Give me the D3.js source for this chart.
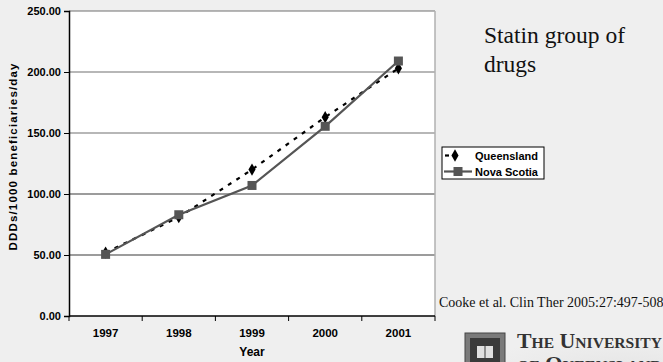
<!DOCTYPE html>
<html>
<head>
<meta charset="utf-8">
<script src="https://cdn.jsdelivr.net/npm/d3@7"></script>
<style>
  html, body { margin: 0; padding: 0; background: #efefef; }
  svg { display: block; }
</style>
</head>
<body>
<svg id="chart" width="663" height="362"></svg>
<script>
// Statin utilisation, DDDs per 1000 beneficiaries per day
const years = ["1997", "1998", "1999", "2000", "2001"];
const queensland = [52, 81, 120, 163, 203];
const novaScotia = [50.5, 83, 107, 155.5, 209];
const yTicks = [0, 50, 100, 150, 200, 250];
const seriesNames = ["Queensland", "Nova Scotia"];

const svg = d3.select("#chart");
const W = 663, H = 362;
const sans = "Liberation Sans, Arial, sans-serif";
const serif = "Liberation Serif, Times New Roman, serif";

// soft background wash at bottom right
const defs = svg.append("defs");
const grad = defs.append("radialGradient").attr("id", "wash")
  .attr("cx", "0.85").attr("cy", "1.1").attr("r", "0.5");
grad.append("stop").attr("offset", "0").attr("stop-color", "#e6e6e6");
grad.append("stop").attr("offset", "1").attr("stop-color", "#efefef");
svg.append("rect").attr("width", W).attr("height", H).attr("fill", "#efefef");
svg.append("rect").attr("x", 380).attr("y", 300).attr("width", 283).attr("height", 62).attr("fill", "url(#wash)");

const plot = { left: 69, right: 435, top: 11, bottom: 316 };

const x = d3.scaleBand().domain(years).range([plot.left, plot.right]);
const y = d3.scaleLinear().domain([0, 250]).range([plot.bottom, plot.top]);

// plot area
svg.append("rect")
  .attr("x", plot.left).attr("y", plot.top)
  .attr("width", plot.right - plot.left).attr("height", plot.bottom - plot.top)
  .attr("fill", "#ffffff");

// gridlines
svg.append("g").selectAll("line").data(yTicks.filter(d => d > 0)).join("line")
  .attr("x1", plot.left).attr("x2", plot.right)
  .attr("y1", d => y(d)).attr("y2", d => y(d))
  .attr("stroke", d => d >= 150 ? "#707070" : "#3a3a3a").attr("stroke-width", 1.2);

// right border
svg.append("line")
  .attr("x1", plot.right).attr("x2", plot.right)
  .attr("y1", plot.top).attr("y2", plot.bottom)
  .attr("stroke", "#b0b0b0").attr("stroke-width", 1.5);

// y axis
const yAxis = svg.append("g")
  .attr("transform", `translate(${plot.left},0)`)
  .call(d3.axisLeft(y).tickValues(yTicks).tickFormat(d3.format(".2f")).tickSize(5).tickPadding(3));
yAxis.select(".domain").attr("stroke", "#000").attr("stroke-width", 1.5);
yAxis.selectAll(".tick line").attr("stroke", "#000");
yAxis.selectAll("text")
  .attr("font-family", sans)
  .attr("font-size", 11).attr("font-weight", "bold").attr("fill", "#000");

// x axis with ticks on band boundaries
const xAxisG = svg.append("g").attr("transform", `translate(0,${plot.bottom})`);
xAxisG.append("line")
  .attr("x1", plot.left).attr("x2", plot.right)
  .attr("stroke", "#000").attr("stroke-width", 1.5);
const bounds = years.map(d => x(d)).concat([x(years[years.length - 1]) + x.bandwidth()]);
xAxisG.selectAll("line.tk").data(bounds).join("line").attr("class", "tk")
  .attr("x1", d => d).attr("x2", d => d).attr("y1", 0).attr("y2", 5)
  .attr("stroke", "#000");
xAxisG.selectAll("text").data(years).join("text")
  .attr("x", d => x(d) + x.bandwidth() / 2).attr("y", 21)
  .attr("text-anchor", "middle")
  .attr("font-family", sans)
  .attr("font-size", 11.5).attr("font-weight", "bold").attr("fill", "#000")
  .text(d => d);

// axis titles
svg.append("text")
  .attr("x", x("1999") + x.bandwidth() / 2).attr("y", 356)
  .attr("text-anchor", "middle")
  .attr("font-family", sans)
  .attr("font-size", 12).attr("font-weight", "bold")
  .text("Year");
svg.append("text")
  .attr("transform", `translate(17,157) rotate(-90)`)
  .attr("text-anchor", "middle")
  .attr("font-family", sans)
  .attr("font-size", 11.5).attr("font-weight", "bold")
  .attr("textLength", 187).attr("lengthAdjust", "spacing")
  .text("DDDs/1000 beneficiaries/day");

const cx = d => x(d) + x.bandwidth() / 2;
const line = d3.line().x((d, i) => cx(years[i])).y(d => y(d));

// Queensland: dashed black with diamonds
svg.append("path").datum(queensland)
  .attr("d", line).attr("fill", "none")
  .attr("stroke", "#000").attr("stroke-width", 2.2)
  .attr("stroke-dasharray", "4,6");
const diamond = d3.symbol().type(d3.symbolDiamond).size(44);
svg.append("g").selectAll("path").data(queensland).join("path")
  .attr("d", diamond)
  .attr("transform", (d, i) => `translate(${cx(years[i])},${y(d)})`)
  .attr("fill", "#000");

// Nova Scotia: solid grey with squares
svg.append("path").datum(novaScotia)
  .attr("d", line).attr("fill", "none")
  .attr("stroke", "#555").attr("stroke-width", 2.2);
svg.append("g").selectAll("rect").data(novaScotia).join("rect")
  .attr("x", (d, i) => cx(years[i]) - 4.5).attr("y", d => y(d) - 4.5)
  .attr("width", 9).attr("height", 9)
  .attr("fill", "#555");

// legend
const lg = svg.append("g").attr("transform", "translate(442,147)");
lg.append("rect").attr("width", 102).attr("height", 32)
  .attr("fill", "#fff").attr("stroke", "#000").attr("stroke-width", 1);
lg.append("line").attr("x1", 3).attr("x2", 7).attr("y1", 8.5).attr("y2", 8.5)
  .attr("stroke", "#000").attr("stroke-width", 2.2);
lg.append("path").attr("d", diamond).attr("transform", "translate(13,8.5)").attr("fill", "#000");
lg.append("line").attr("x1", 2).attr("x2", 30).attr("y1", 24.5).attr("y2", 24.5)
  .attr("stroke", "#555").attr("stroke-width", 2.2);
lg.append("rect").attr("x", 11.5).attr("y", 20).attr("width", 9).attr("height", 9).attr("fill", "#555");
lg.selectAll("text.lab").data(seriesNames).join("text").attr("class", "lab")
  .attr("x", 33).attr("y", (d, i) => 12.5 + i * 16)
  .attr("font-family", sans)
  .attr("font-size", 11).attr("font-weight", "bold")
  .text(d => d);

// side title
svg.append("text").attr("x", 484).attr("y", 43)
  .attr("font-family", serif).attr("font-size", 23.5).attr("fill", "#111")
  .text("Statin group of");
svg.append("text").attr("x", 484).attr("y", 72)
  .attr("font-family", serif).attr("font-size", 23.5).attr("fill", "#111")
  .text("drugs");

// citation
svg.append("text").attr("x", 439).attr("y", 307)
  .attr("font-family", serif).attr("font-size", 14).attr("fill", "#111")
  .text("Cooke et al. Clin Ther 2005:27:497-508");

// university mark
const logo = svg.append("g");
logo.append("rect").attr("x", 465).attr("y", 333).attr("width", 40).attr("height", 35)
  .attr("fill", "#7a7a7a").attr("stroke", "#444").attr("stroke-width", 1);
logo.append("rect").attr("x", 470).attr("y", 338).attr("width", 30).attr("height", 28)
  .attr("fill", "#3a3a3a");
logo.append("rect").attr("x", 477).attr("y", 346).attr("width", 16).attr("height", 12)
  .attr("fill", "#e0e0e0");
logo.append("line").attr("x1", 485).attr("x2", 485).attr("y1", 346).attr("y2", 358)
  .attr("stroke", "#3a3a3a").attr("stroke-width", 1);
logo.append("text").attr("x", 517).attr("y", 348)
  .attr("font-family", serif).attr("font-size", 21).attr("font-weight", "bold")
  .attr("fill", "#333").style("font-variant", "small-caps")
  .attr("textLength", 145).attr("lengthAdjust", "spacingAndGlyphs")
  .text("The University");
logo.append("text").attr("x", 517).attr("y", 371)
  .attr("font-family", serif).attr("font-size", 21).attr("font-weight", "bold")
  .attr("fill", "#333").style("font-variant", "small-caps")
  .attr("textLength", 145).attr("lengthAdjust", "spacingAndGlyphs")
  .text("of Queensland");
</script>
</body>
</html>
